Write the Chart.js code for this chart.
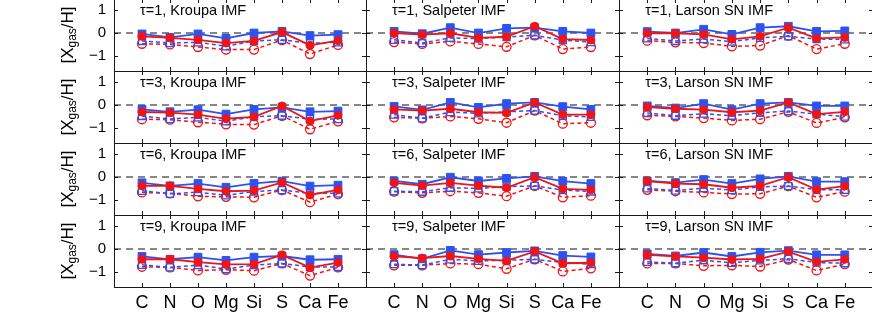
<!DOCTYPE html>
<html>
<head>
<meta charset="utf-8">
<script src="https://cdn.jsdelivr.net/npm/chart.js@4"></script>
<style>
  html, body { margin: 0; padding: 0; background: #fff; overflow: hidden; }
  #wrap { position: relative; width: 872px; height: 327px; }
  canvas { position: absolute; }
</style>
</head>
<body>
<div id="wrap"></div>
<script>
const elements = ['C', 'N', 'O', 'Mg', 'Si', 'S', 'Ca', 'Fe']
const taus = [1, 3, 6, 9]
const imfs = ['Kroupa IMF', 'Salpeter IMF', 'Larson SN IMF']
const yTicks = [-1, 0, 1]

// one row per panel: tau=1 (Kroupa, Salpeter, Larson), tau=3 ..., tau=6 ..., tau=9 ...
const blueFilled = [
	[-0.04, -0.19, -0.04, -0.23, 0.00, 0.07, -0.11, -0.07],
	[0.07, -0.03, 0.23, 0.00, 0.20, 0.23, 0.07, 0.00],
	[0.06, 0.00, 0.16, -0.06, 0.23, 0.29, 0.07, 0.09],
	[-0.19, -0.29, -0.20, -0.39, -0.19, -0.10, -0.29, -0.26],
	[-0.06, -0.21, 0.11, -0.10, 0.06, 0.11, -0.07, -0.19],
	[-0.04, -0.13, 0.06, -0.20, 0.06, 0.11, -0.04, -0.04],
	[-0.25, -0.38, -0.28, -0.44, -0.27, -0.18, -0.39, -0.35],
	[-0.17, -0.31, -0.01, -0.17, -0.06, 0.03, -0.18, -0.28],
	[-0.17, -0.24, -0.11, -0.28, -0.08, 0.03, -0.20, -0.20],
	[-0.32, -0.44, -0.35, -0.49, -0.35, -0.30, -0.46, -0.44],
	[-0.24, -0.42, -0.06, -0.24, -0.15, -0.08, -0.28, -0.34],
	[-0.21, -0.30, -0.15, -0.32, -0.14, -0.07, -0.25, -0.25],
]
const redFilled = [
	[-0.14, -0.21, -0.29, -0.43, -0.34, 0.04, -0.53, -0.33],
	[0.00, -0.07, -0.01, -0.21, -0.16, 0.29, -0.26, -0.30],
	[-0.01, -0.01, -0.06, -0.27, -0.14, 0.23, -0.23, -0.19],
	[-0.30, -0.33, -0.41, -0.59, -0.51, -0.04, -0.69, -0.44],
	[-0.19, -0.24, -0.16, -0.31, -0.34, 0.11, -0.41, -0.41],
	[-0.09, -0.16, -0.20, -0.31, -0.24, 0.11, -0.39, -0.29],
	[-0.38, -0.38, -0.51, -0.61, -0.58, -0.23, -0.77, -0.55],
	[-0.25, -0.37, -0.25, -0.37, -0.46, -0.01, -0.51, -0.55],
	[-0.17, -0.28, -0.31, -0.46, -0.38, -0.01, -0.54, -0.39],
	[-0.44, -0.44, -0.56, -0.66, -0.65, -0.25, -0.80, -0.58],
	[-0.31, -0.39, -0.30, -0.42, -0.51, -0.10, -0.61, -0.59],
	[-0.25, -0.32, -0.37, -0.45, -0.42, -0.11, -0.55, -0.44],
]
const blueOpen = [
	[-0.34, -0.43, -0.40, -0.57, -0.34, -0.29, -0.44, -0.40],
	[-0.29, -0.43, -0.21, -0.24, -0.17, -0.10, -0.30, -0.39],
	[-0.23, -0.34, -0.26, -0.37, -0.21, -0.14, -0.26, -0.27],
	[-0.47, -0.60, -0.53, -0.70, -0.50, -0.46, -0.61, -0.60],
	[-0.41, -0.57, -0.30, -0.36, -0.29, -0.24, -0.46, -0.51],
	[-0.34, -0.46, -0.37, -0.46, -0.33, -0.26, -0.39, -0.50],
	[-0.59, -0.72, -0.65, -0.79, -0.62, -0.56, -0.70, -0.70],
	[-0.61, -0.63, -0.46, -0.49, -0.41, -0.38, -0.56, -0.62],
	[-0.49, -0.58, -0.48, -0.56, -0.42, -0.39, -0.54, -0.55],
	[-0.68, -0.79, -0.69, -0.86, -0.69, -0.62, -0.77, -0.77],
	[-0.65, -0.69, -0.44, -0.51, -0.48, -0.44, -0.58, -0.65],
	[-0.55, -0.61, -0.48, -0.59, -0.49, -0.42, -0.58, -0.61],
]
const redOpen = [
	[-0.46, -0.49, -0.60, -0.71, -0.71, -0.30, -0.90, -0.51],
	[-0.39, -0.47, -0.36, -0.47, -0.59, -0.10, -0.69, -0.60],
	[-0.33, -0.40, -0.43, -0.57, -0.54, -0.11, -0.69, -0.46],
	[-0.61, -0.63, -0.74, -0.83, -0.84, -0.46, -1.04, -0.70],
	[-0.53, -0.57, -0.49, -0.59, -0.76, -0.24, -0.80, -0.76],
	[-0.44, -0.49, -0.56, -0.66, -0.61, -0.29, -0.77, -0.53],
	[-0.66, -0.70, -0.83, -0.85, -0.87, -0.56, -1.08, -0.73],
	[-0.63, -0.68, -0.61, -0.68, -0.82, -0.38, -0.87, -0.80],
	[-0.55, -0.61, -0.66, -0.73, -0.72, -0.39, -0.87, -0.63],
	[-0.76, -0.79, -0.92, -0.89, -0.93, -0.62, -1.14, -0.79],
	[-0.70, -0.70, -0.62, -0.65, -0.85, -0.44, -0.96, -0.83],
	[-0.62, -0.62, -0.72, -0.70, -0.75, -0.45, -0.92, -0.65],
]

const BLUE = '#2d52f2'
const RED = '#f01414'
const FONT = '"Liberation Sans", Arial, Helvetica, sans-serif'

const colLeft = [114, 366, 619]
const colW = [252, 253, 254]
const rowTop = [-1, 71, 143, 215]
const panelH = 72
const yAxisW = 114
const xAxisH = 40

const toPoints = vals => vals.map((v, i) => ({ x: i + 1, y: v }))

// box, inward ticks, panel label and y title
const framePlugin = {
	id: 'frame',
	afterDraw(chart, args, opts) {
		const { ctx, chartArea: a } = chart
		const x = chart.scales.x
		const y = chart.scales.y
		ctx.save()
		ctx.strokeStyle = '#1a1a1a'
		ctx.lineWidth = 1
		ctx.strokeRect(a.left + 0.5, a.top + 0.5, a.right - a.left, a.bottom - a.top)
		ctx.beginPath()
		elements.forEach((e, i) => {
			const px = Math.round(x.getPixelForValue(i + 1)) + 0.5
			ctx.moveTo(px, a.top)
			ctx.lineTo(px, a.top + 4)
			ctx.moveTo(px, a.bottom)
			ctx.lineTo(px, a.bottom - 4)
		})
		yTicks.forEach(v => {
			const py = Math.round(y.getPixelForValue(v)) + 0.5
			ctx.moveTo(a.left, py)
			ctx.lineTo(a.left + 4, py)
			ctx.moveTo(a.right, py)
			ctx.lineTo(a.right - 4, py)
		})
		ctx.stroke()

		ctx.fillStyle = '#000'
		ctx.font = '14.5px ' + FONT
		ctx.textAlign = 'left'
		ctx.textBaseline = 'middle'
		ctx.fillText(opts.label, x.getPixelForValue(1) - 2, a.top + 12)

		if (opts.yTitle) {
			ctx.translate(60, (a.top + a.bottom) / 2)
			ctx.rotate(-Math.PI / 2)
			ctx.textBaseline = 'alphabetic'
			const big = '17px ' + FONT
			const small = '12px ' + FONT
			ctx.font = big
			const w1 = ctx.measureText('[X').width
			const w3 = ctx.measureText('/H]').width
			ctx.font = small
			const w2 = ctx.measureText('gas').width
			const x0 = -(w1 + w2 + w3) / 2
			ctx.font = big
			ctx.fillText('[X', x0, 13)
			ctx.font = small
			ctx.fillText('gas', x0 + w1, 16)
			ctx.font = big
			ctx.fillText('/H]', x0 + w1 + w2, 13)
		}
		ctx.restore()
	},
}

function makePanel(r, c) {
	const p = r * 3 + c
	const canvas = document.createElement('canvas')
	canvas.width = (c === 0 ? yAxisW : 0) + colW[c] + 1
	canvas.height = panelH + (r === 3 ? xAxisH : 1)
	canvas.style.left = (c === 0 ? 0 : colLeft[c]) + 'px'
	canvas.style.top = rowTop[r] + 'px'
	document.getElementById('wrap').appendChild(canvas)

	const chartData = {
		datasets: [
			{
				data: toPoints(redFilled[p]),
				borderColor: RED,
				backgroundColor: RED,
				borderWidth: 1.8,
				pointStyle: 'circle',
				pointRadius: 4,
				pointBorderWidth: 1,
				order: 1,
			},
			{
				data: toPoints(blueFilled[p]),
				borderColor: BLUE,
				backgroundColor: BLUE,
				borderWidth: 1.8,
				pointStyle: 'rect',
				pointRadius: 5.5,
				pointBorderWidth: 1,
				order: 2,
			},
			{
				data: toPoints(blueOpen[p]),
				borderColor: BLUE,
				backgroundColor: 'rgba(0,0,0,0)',
				borderWidth: 1.5,
				borderDash: [4, 3],
				pointStyle: 'rect',
				pointRadius: 5,
				pointBorderWidth: 1.3,
				order: 3,
			},
			{
				data: toPoints(redOpen[p]),
				borderColor: RED,
				backgroundColor: 'rgba(0,0,0,0)',
				borderWidth: 1.5,
				borderDash: [4, 3],
				pointStyle: 'circle',
				pointRadius: 4.5,
				pointBorderWidth: 1.3,
				order: 4,
			},
			{
				data: [{ x: 0, y: 0 }, { x: 9, y: 0 }],
				borderColor: '#111',
				borderWidth: 1.2,
				borderDash: [7, 5],
				pointRadius: 0,
				order: 5,
			},
		],
	}

	const optionsData = {
		responsive: false,
		animation: false,
		devicePixelRatio: 1,
		layout: { autoPadding: false, padding: { top: 0, left: 0, bottom: 0, right: 1 } },
		elements: { line: { tension: 0, fill: false } },
		plugins: {
			legend: { display: false },
			tooltip: { enabled: false },
			frame: { label: 'τ=' + taus[r] + ', ' + imfs[c], yTitle: c === 0 },
		},
		scales: {
			x: {
				type: 'linear',
				min: 0,
				max: 9,
				grid: { display: false, drawTicks: false },
				border: { display: false },
				ticks: {
					display: r === 3,
					autoSkip: false,
					maxRotation: 0,
					padding: 5,
					color: '#000',
					font: { size: 18, family: FONT },
					callback: v => elements[v - 1],
				},
				afterBuildTicks: s => { s.ticks = elements.map((e, i) => ({ value: i + 1 })) },
				afterFit: s => {
					s.height = r === 3 ? xAxisH : 1
					s.paddingLeft = 0
					s.paddingRight = 0
				},
			},
			y: {
				min: -1.63,
				max: 1.46,
				grid: { display: false, drawTicks: false },
				border: { display: false },
				ticks: {
					display: c === 0,
					padding: 8,
					color: '#000',
					font: { size: 15, family: FONT },
					callback: v => (v < 0 ? '\u2212' + Math.abs(v) : String(v)),
				},
				afterBuildTicks: s => { s.ticks = yTicks.map(v => ({ value: v })) },
				afterFit: s => {
					s.width = c === 0 ? yAxisW : 0
					s.paddingTop = 0
					s.paddingBottom = 0
				},
			},
		},
	}

	new Chart(canvas, { type: 'line', data: chartData, options: optionsData, plugins: [framePlugin] })
}

for (let r = 0; r < 4; r++) {
	for (let c = 0; c < 3; c++) {
		makePanel(r, c)
	}
}
</script>
</body>
</html>
